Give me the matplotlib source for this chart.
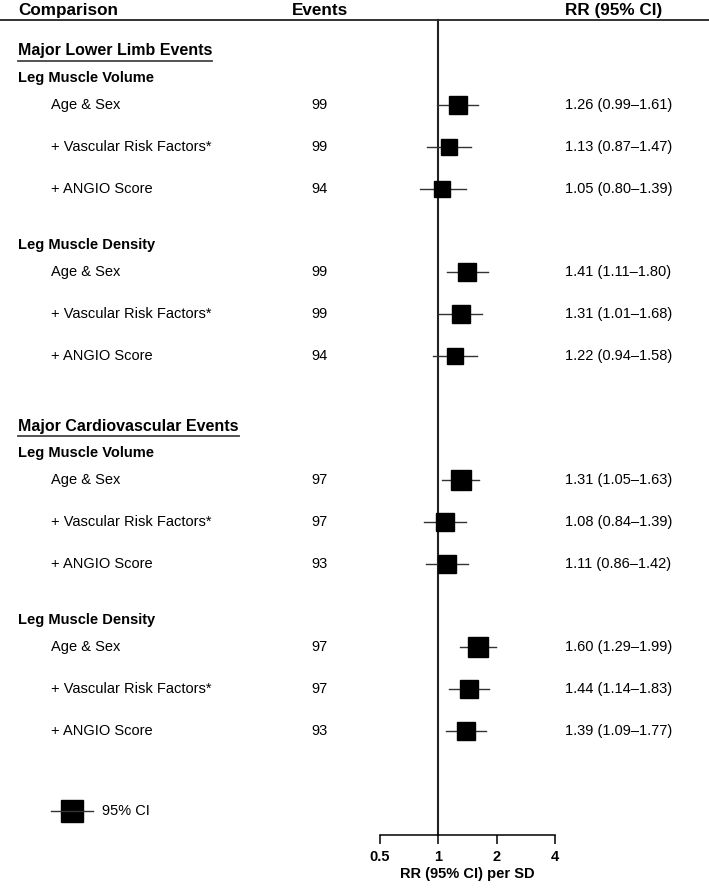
import numpy as np
import matplotlib
matplotlib.use("Agg")
import matplotlib.pyplot as plt
from matplotlib.patches import Rectangle

plt.rcParams["font.family"] = ["Liberation Sans", "DejaVu Sans"]

# data
sections = ["Major Lower Limb Events", "Major Cardiovascular Events"]
subgroups = ["Leg Muscle Volume", "Leg Muscle Density"]
models = ["Age & Sex", "+ Vascular Risk Factors*", "+ ANGIO Score"]
events = [
    [[99, 99, 94], [99, 99, 94]],
    [[97, 97, 93], [97, 97, 93]],
]
rr = [
    [[1.26, 1.13, 1.05], [1.41, 1.31, 1.22]],
    [[1.31, 1.08, 1.11], [1.60, 1.44, 1.39]],
]
lo = [
    [[0.99, 0.87, 0.80], [1.11, 1.01, 0.94]],
    [[1.05, 0.84, 0.86], [1.29, 1.14, 1.09]],
]
hi = [
    [[1.61, 1.47, 1.39], [1.80, 1.68, 1.58]],
    [[1.63, 1.39, 1.42], [1.99, 1.83, 1.77]],
]
xticks = [0.5, 1, 2, 4]
xticklabels = ["0.5", "1", "2", "4"]

W, H = 709, 890
fig = plt.figure(figsize=(W / 100, H / 100), dpi=100)

# background axes in pixel coordinates for text and rules
bg = fig.add_axes([0, 0, 1, 1])
bg.set_xlim(0, W)
bg.set_ylim(H, 0)
bg.axis("off")

# forest axes (log scale), y in same pixel coordinates
x0, x1 = 380, 555
ax = fig.add_axes([x0 / W, 0, (x1 - x0) / W, 1])
ax.set_xscale("log")
ax.set_xlim(0.5, 4)
ax.set_ylim(H, 0)
ax.patch.set_alpha(0)
for s in ["top", "right", "left"]:
    ax.spines[s].set_visible(False)
ax.spines["bottom"].set_position(("data", 835))
ax.spines["bottom"].set_bounds(0.5, 4)
ax.spines["bottom"].set_linewidth(1.1)
ax.set_yticks([])
ax.set_xticks(xticks)
ax.set_xticklabels(xticklabels, fontsize=10.5, fontweight="bold")
ax.xaxis.set_minor_locator(matplotlib.ticker.NullLocator())
ax.tick_params(axis="x", direction="out", length=6.5, width=1.1, pad=4)
ax.set_xlabel("RR (95% CI) per SD", fontsize=10.5, fontweight="bold")
ax.xaxis.label.set_va("center")
ax.xaxis.set_label_coords(0.5, 1 - 874 / H, transform=ax.transAxes)
ax.plot([1, 1], [20, 835], color="#222222", lw=1.5, zorder=1)

# header
hdr = dict(fontsize=12.3, fontweight="bold", va="baseline")
bg.text(18, 15, "Comparison", ha="left", **hdr)
bg.text(320, 15, "Events", ha="center", **hdr)
bg.text(565, 15, "RR (95% CI)", ha="left", **hdr)
bg.plot([0, W], [20, 20], color="#333333", lw=1.4)

renderer = fig.canvas.get_renderer()
y = 51
for si, sec in enumerate(sections):
    t = bg.text(18, y, sec, ha="left", va="center", fontsize=11.5, fontweight="bold")
    bb = t.get_window_extent(renderer)
    bg.plot([18, 18 + bb.width], [y + 10, y + 10], color="#444444", lw=1.3)
    y += 27
    for gi, grp in enumerate(subgroups):
        bg.text(18, y, grp, ha="left", va="center", fontsize=10.5, fontweight="bold")
        y += 27
        for mi, m in enumerate(models):
            bg.text(51, y, m, ha="left", va="center", fontsize=10.5)
            bg.text(320, y, str(events[si][gi][mi]), ha="center", va="center", fontsize=10.5)
            bg.text(565, y, "%.2f (%.2f\u2013%.2f)" % (rr[si][gi][mi], lo[si][gi][mi], hi[si][gi][mi]),
                    ha="left", va="center", fontsize=10.5)
            l, h, r = lo[si][gi][mi], hi[si][gi][mi], rr[si][gi][mi]
            ax.plot([l, h], [y, y], color="#333333", lw=1.0, zorder=2)
            size_px = 8.75 / np.log(h / l)
            ax.plot([r], [y], marker="s", color="black", markersize=size_px * 0.72,
                    linestyle="none", zorder=3)
            if mi < len(models) - 1:
                y += 42
        y += 56 if gi == 0 else 0
    y += 70

# legend
ly = 811
bg.plot([51, 93], [ly, ly], color="#333333", lw=1.0)
bg.add_patch(Rectangle((61, ly - 11), 22, 22, color="black"))
bg.text(102, ly, "95% CI", ha="left", va="center", fontsize=10.5)

fig.savefig("out.png", dpi=100)
